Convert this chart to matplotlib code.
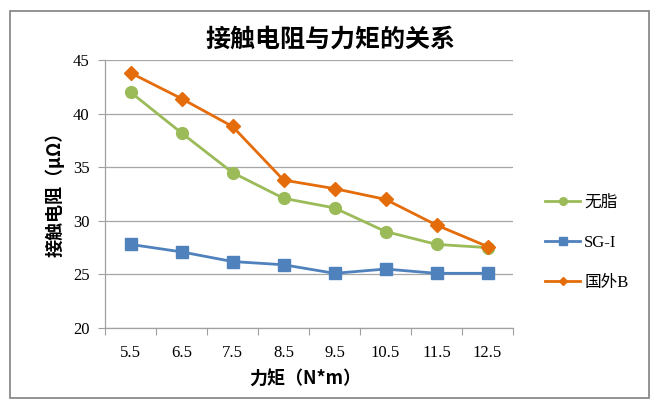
import matplotlib
matplotlib.use("Agg")
import matplotlib.pyplot as plt
from matplotlib.patches import Rectangle

plt.rcParams['font.family'] = ['Liberation Serif', 'Noto Sans CJK SC', 'DejaVu Sans']

categories = ["5.5", "6.5", "7.5", "8.5", "9.5", "10.5", "11.5", "12.5"]
series_names = ["无脂", "SG-I", "国外B"]
wuzhi = [42.0, 38.2, 34.5, 32.1, 31.2, 29.0, 27.8, 27.5]
sg1 = [27.8, 27.1, 26.2, 25.9, 25.1, 25.5, 25.1, 25.1]
guowai_b = [43.8, 41.4, 38.8, 33.8, 33.0, 32.0, 29.6, 27.6]
y_ticks = [20, 25, 30, 35, 40, 45]

W, H = 661, 408
fig = plt.figure(figsize=(W / 100, H / 100), dpi=100)
fig.patch.set_facecolor('white')

# outer chart frame
fig.patches.append(Rectangle((10 / W, 1 - 398 / H), (649 - 10) / W, (398 - 11) / H,
                             transform=fig.transFigure, fill=False,
                             edgecolor='#8a8a8a', lw=1.3, zorder=0))

ax = fig.add_axes([105 / W, 1 - 328 / H, (513 - 105) / W, (328 - 60) / H])

x = list(range(len(categories)))
green = '#9BBB59'
blue = '#4F81BD'
orange = '#E46C0A'

l1, = ax.plot(x, wuzhi, color=green, lw=2.0, marker='o', markersize=8.5,
              markerfacecolor=green, markeredgecolor=green, label=series_names[0], zorder=3)
l2, = ax.plot(x, sg1, color=blue, lw=2.0, marker='s', markersize=8,
              markerfacecolor=blue, markeredgecolor=blue, label=series_names[1], zorder=3)
l3, = ax.plot(x, guowai_b, color=orange, lw=2.0, marker='D', markersize=7,
              markerfacecolor=orange, markeredgecolor=orange, label=series_names[2], zorder=4)

ax.set_xlim(-0.5, len(categories) - 0.5)
ax.set_ylim(20, 45)
ax.set_yticks(y_ticks)
ax.set_yticklabels([str(v) for v in y_ticks], fontsize=12)
ax.set_xticks(x)
ax.set_xticklabels(categories, fontsize=12)
ax.set_xticks([i - 0.5 for i in range(len(categories) + 1)], minor=True)
ax.tick_params(axis='x', which='major', length=0, pad=12)
ax.tick_params(axis='x', which='minor', length=5, color='#a0a0a0', width=0.8)
ax.tick_params(axis='y', which='major', length=5, color='#a0a0a0', width=0.8, pad=6)

ax.grid(axis='y', color='#a6a6a6', lw=0.9, zorder=0)
ax.set_axisbelow(True)
for s in ['top', 'right']:
    ax.spines[s].set_visible(False)
for s in ['left', 'bottom']:
    ax.spines[s].set_color('#a0a0a0')
    ax.spines[s].set_linewidth(0.9)

fig.text(330 / W, 1 - 40 / H, "接触电阻与力矩的关系", ha='center', va='center',
         fontsize=18, fontweight='bold', family=['Noto Sans CJK SC', 'DejaVu Sans'])
fig.text(305 / W, 1 - 378 / H, "力矩（N*m）", ha='center', va='center',
         fontsize=13, fontweight='bold', family=['Noto Sans CJK SC', 'DejaVu Sans'])
fig.text(55 / W, 1 - 190 / H, "接触电阻（μΩ）", ha='center', va='center', rotation=90,
         fontsize=13, fontweight='bold', family=['Noto Sans CJK SC', 'DejaVu Sans'])

leg = fig.legend(handles=[l1, l2, l3], loc='center left',
                 bbox_to_anchor=(530 / W, 1 - 243 / H), frameon=False,
                 fontsize=12, handlelength=2.1, labelspacing=1.45,
                 handletextpad=0.25, markerscale=0.65)

fig.savefig("out.png", dpi=100, facecolor='white')
